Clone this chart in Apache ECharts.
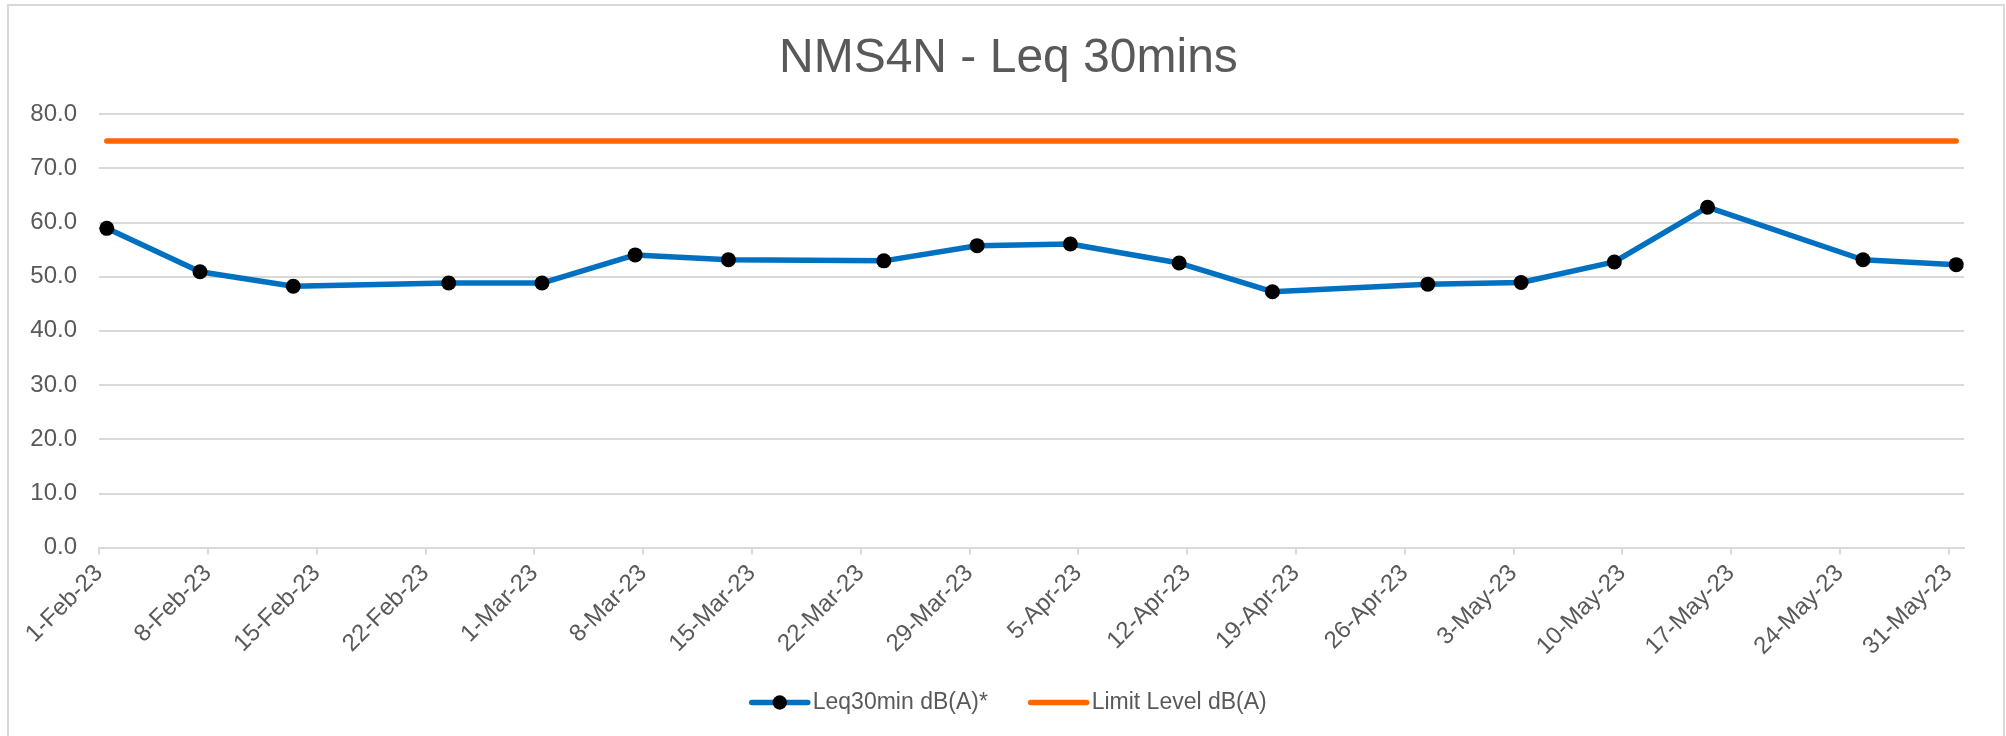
<!DOCTYPE html>
<html>
<head>
<meta charset="utf-8">
<title>NMS4N - Leq 30mins</title>
<script src="https://cdn.jsdelivr.net/npm/echarts@6/dist/echarts.min.js"></script>
<style>
  html, body { margin: 0; padding: 0; background: #ffffff; }
  #chart { width: 2006px; height: 736px; }
</style>
</head>
<body>
<div id="chart"></div>
<script>
// Measurement dates (each point sits in the middle of its day)
const measureDates = [
  '2023-02-01', '2023-02-07', '2023-02-13', '2023-02-23', '2023-03-01', '2023-03-07',
  '2023-03-13', '2023-03-23', '2023-03-29', '2023-04-04', '2023-04-11', '2023-04-17',
  '2023-04-27', '2023-05-03', '2023-05-09', '2023-05-15', '2023-05-25', '2023-05-31'
];

// Leq30min dB(A)* readings
const leqValues = [
  58.9, 50.9, 48.2, 48.8, 48.8, 54.0,
  53.1, 52.9, 55.7, 56.0, 52.5, 47.2,
  48.6, 48.9, 52.7, 62.8, 53.1, 52.2
];

// Limit level dB(A)
const limitValues = [
  75, 75, 75, 75, 75, 75,
  75, 75, 75, 75, 75, 75,
  75, 75, 75, 75, 75, 75
];

// Weekly ticks on the date axis and their labels
const tickDates = [
  '2023-02-01', '2023-02-08', '2023-02-15', '2023-02-22', '2023-03-01', '2023-03-08',
  '2023-03-15', '2023-03-22', '2023-03-29', '2023-04-05', '2023-04-12', '2023-04-19',
  '2023-04-26', '2023-05-03', '2023-05-10', '2023-05-17', '2023-05-24', '2023-05-31'
];
const tickLabels = [
  '1-Feb-23', '8-Feb-23', '15-Feb-23', '22-Feb-23', '1-Mar-23', '8-Mar-23',
  '15-Mar-23', '22-Mar-23', '29-Mar-23', '5-Apr-23', '12-Apr-23', '19-Apr-23',
  '26-Apr-23', '3-May-23', '10-May-23', '17-May-23', '24-May-23', '31-May-23'
];

const axisFirstDay = '2023-02-01';
const axisEndDay = '2023-06-01';
const yTicks = { min: 0, max: 80, interval: 10 };

// Day number counted from the first day of the axis
const DAY_MS = 24 * 3600 * 1000;
function dayIndex(s) {
  const p = s.split('-').map(Number);
  const q = axisFirstDay.split('-').map(Number);
  return Math.round((Date.UTC(p[0], p[1] - 1, p[2]) - Date.UTC(q[0], q[1] - 1, q[2])) / DAY_MS);
}

const tickDays = tickDates.map(dayIndex);
const labelByDay = {};
tickDays.forEach((d, i) => { labelByDay[d] = tickLabels[i]; });

// Points are centred in their day slot
const leqData = measureDates.map((d, i) => [dayIndex(d) + 0.5, leqValues[i]]);
const limitData = measureDates.map((d, i) => [dayIndex(d) + 0.5, limitValues[i]]);

const FONT = '"Liberation Sans", Arial, sans-serif';
const TEXT_COLOR = '#595959';
const GRID_COLOR = '#d9d9d9';
const LEQ_COLOR = '#0070C0';
const LIMIT_COLOR = '#FF6600';

const chart = echarts.init(document.getElementById('chart'), null, { renderer: 'canvas' });

chart.setOption({
  backgroundColor: '#ffffff',
  animation: false,
  title: {
    text: 'NMS4N - Leq 30mins',
    left: 779,
    top: 35,
    padding: 0,
    textStyle: {
      fontFamily: FONT,
      fontSize: 48,
      fontWeight: 'normal',
      color: TEXT_COLOR
    }
  },
  graphic: [{
    type: 'rect',
    silent: true,
    shape: { x: 8, y: 5, width: 1996, height: 780 },
    style: { fill: 'none', stroke: GRID_COLOR, lineWidth: 2 }
  }],
  legend: {
    left: 749,
    top: 691,
    padding: 0,
    itemWidth: 56,
    itemHeight: 18,
    itemGap: 40,
    lineStyle: { width: 5.5, cap: 'round' },
    textStyle: { fontFamily: FONT, fontSize: 23, color: TEXT_COLOR },
    data: [
      { name: 'Leq30min dB(A)*' },
      { name: 'Limit Level dB(A)', itemStyle: { opacity: 0 } }
    ]
  },
  grid: {
    left: 99,
    right: 42,
    top: 114,
    height: 433.5,
    containLabel: false
  },
  xAxis: {
    type: 'value',
    min: dayIndex(axisFirstDay),
    max: dayIndex(axisEndDay),
    interval: 7,
    axisLine: { show: true, onZero: false, lineStyle: { color: GRID_COLOR, width: 2 } },
    axisTick: {
      show: true,
      length: 7,
      customValues: tickDays,
      lineStyle: { color: GRID_COLOR, width: 2 }
    },
    splitLine: { show: false },
    axisLabel: {
      customValues: tickDays,
      rotate: 45,
      margin: 22,
      fontFamily: FONT,
      fontSize: 24,
      color: TEXT_COLOR,
      formatter: v => labelByDay[v] || ''
    }
  },
  yAxis: {
    type: 'value',
    min: yTicks.min,
    max: yTicks.max,
    interval: yTicks.interval,
    axisLine: { show: false },
    axisTick: { show: false },
    splitLine: { show: true, lineStyle: { color: GRID_COLOR, width: 2 } },
    axisLabel: {
      margin: 22,
      fontFamily: FONT,
      fontSize: 24,
      color: TEXT_COLOR,
      formatter: v => v.toFixed(1)
    }
  },
  series: [
    {
      name: 'Leq30min dB(A)*',
      type: 'line',
      data: leqData,
      symbol: 'circle',
      symbolSize: 15,
      showAllSymbol: true,
      itemStyle: { color: '#000000' },
      lineStyle: { color: LEQ_COLOR, width: 5.5, cap: 'round', join: 'round' },
      z: 3
    },
    {
      name: 'Limit Level dB(A)',
      type: 'line',
      data: limitData,
      symbol: 'none',
      itemStyle: { color: LIMIT_COLOR },
      lineStyle: { color: LIMIT_COLOR, width: 5.5, cap: 'round' },
      z: 2
    }
  ]
});
</script>
</body>
</html>
